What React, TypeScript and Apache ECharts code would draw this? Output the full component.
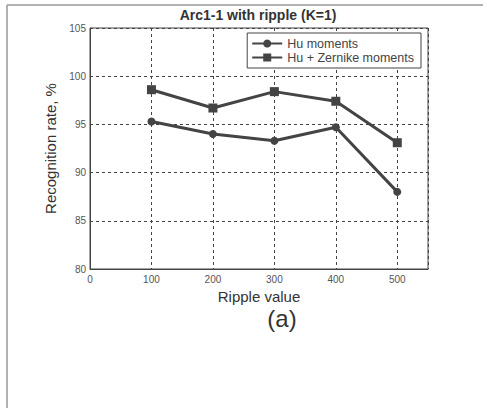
import React, { useEffect, useRef } from "react";
import * as echarts from "echarts";

const rippleValues = [100, 200, 300, 400, 500];
const huMoments = [95.3, 94.0, 93.3, 94.7, 88.0];
const huZernike = [98.6, 96.7, 98.4, 97.4, 93.1];
const seriesNames = ["Hu moments", "Hu + Zernike moments"];

const FONT = "Liberation Sans, Arial, sans-serif";

export default function App() {
  const ref = useRef<HTMLDivElement>(null);
  useEffect(() => {
    const chart = echarts.init(ref.current!, null, { renderer: "svg" });
    const toPairs = (vals: number[]) => rippleValues.map((x, i) => [x, vals[i]]);
    chart.setOption({
      animation: false,
      backgroundColor: "#fff",
      textStyle: { fontFamily: FONT },
      grid: {
        left: 90,
        right: 59,
        top: 28,
        bottom: 139,
        show: true,
        borderColor: "#444",
        borderWidth: 1,
      },
      xAxis: {
        type: "value",
        min: 0,
        max: 550,
        interval: 100,
        name: "Ripple value",
        nameLocation: "middle",
        nameGap: 13,
        nameTextStyle: { fontSize: 15, color: "#333", fontFamily: FONT },
        axisLine: { show: true, lineStyle: { color: "#444" } },
        axisTick: { show: false },
        axisLabel: {
          fontSize: 10,
          color: "#555",
          margin: 5,
          formatter: (v: number) => (v > 500 ? "" : String(v)),
        },
        splitLine: { show: true, lineStyle: { color: "#444", type: [3, 3], width: 1 } },
      },
      yAxis: {
        type: "value",
        min: 80,
        max: 105,
        interval: 5,
        name: "Recognition rate, %",
        nameLocation: "middle",
        nameGap: 22,
        nameTextStyle: { fontSize: 15, color: "#333", fontFamily: FONT },
        axisLine: { show: true, lineStyle: { color: "#444" } },
        axisTick: { show: false },
        axisLabel: { fontSize: 10, color: "#555", margin: 4 },
        splitLine: { show: true, lineStyle: { color: "#444", type: [3, 3], width: 1 } },
      },
      legend: {
        orient: "vertical",
        right: 66,
        top: 33,
        borderColor: "#444",
        borderWidth: 1,
        backgroundColor: "#fff",
        padding: [4, 7, 4, 4],
        itemGap: 1,
        itemWidth: 30,
        itemHeight: 10,
        textStyle: { fontSize: 12.5, color: "#444", fontFamily: FONT },
        data: seriesNames,
      },
      series: [
        {
          name: seriesNames[0],
          type: "line",
          data: toPairs(huMoments),
          symbol: "circle",
          symbolSize: 8,
          lineStyle: { color: "#444", width: 3 },
          itemStyle: { color: "#444" },
        },
        {
          name: seriesNames[1],
          type: "line",
          data: toPairs(huZernike),
          symbol: "rect",
          symbolSize: 9,
          lineStyle: { color: "#444", width: 3 },
          itemStyle: { color: "#444" },
        },
      ],
      graphic: [
        {
          type: "line",
          shape: { x1: 7, y1: 5, x2: 483, y2: 5 },
          style: { stroke: "#999", lineWidth: 1.5 },
        },
        {
          type: "line",
          shape: { x1: 7, y1: 5, x2: 7, y2: 408 },
          style: { stroke: "#999", lineWidth: 1.5 },
        },
        {
          type: "text",
          x: 258,
          y: 15,
          style: {
            text: "Arc1-1 with ripple (K=1)",
            fontSize: 14,
            fontWeight: "bold",
            fill: "#333",
            fontFamily: FONT,
            align: "center",
            verticalAlign: "middle",
          },
        },
        {
          type: "text",
          x: 282,
          y: 318,
          style: {
            text: "(a)",
            fontSize: 24,
            fill: "#333",
            fontFamily: FONT,
            align: "center",
            verticalAlign: "middle",
          },
        },
      ],
    });
    return () => chart.dispose();
  }, []);
  return <div ref={ref} style={{ width: 487, height: 408, position: "absolute", left: 0, top: 0 }} />;
}
